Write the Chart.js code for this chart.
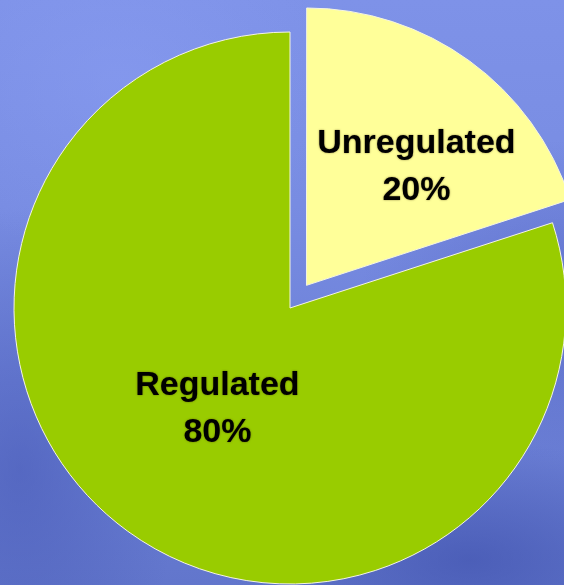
<!DOCTYPE html>
<html>
<head>
<meta charset="utf-8">
<script src="https://cdn.jsdelivr.net/npm/chart.js@4/dist/chart.umd.min.js"></script>
<style>
  html, body { margin: 0; padding: 0; }
  #wrap {
    position: relative;
    width: 564px;
    height: 585px;
    overflow: hidden;
    background:
      radial-gradient(ellipse 160px 260px at 20px 470px, rgba(70, 88, 180, 0.55), rgba(70, 88, 180, 0) 100%),
      radial-gradient(ellipse 200px 160px at 560px 300px, rgba(80, 96, 190, 0.5), rgba(80, 96, 190, 0) 100%),
      radial-gradient(ellipse 240px 120px at 470px 560px, rgba(60, 78, 170, 0.6), rgba(60, 78, 170, 0) 100%),
      radial-gradient(ellipse 220px 180px at 120px 80px, rgba(140, 160, 245, 0.45), rgba(140, 160, 245, 0) 100%),
      linear-gradient(180deg, #7e92e8 0%, #788ce2 35%, #6d81d8 65%, #6276cc 100%);
  }
</style>
</head>
<body>
<div id="wrap"><canvas id="chart"></canvas></div>
<script>
const labels = ["Unregulated", "Regulated"];
const shares = [20, 80];
const sliceColors = ["#ffff99", "#99cc00"];

// label anchor per slice, in units of the pie radius from the pie centre
const labelAnchors = [
  { dx: 0.458, dy: -0.511 },
  { dx: -0.263, dy: 0.368 },
];

const sliceLabels = {
  id: "sliceLabels",
  afterDatasetsDraw(chart) {
    const ctx = chart.ctx;
    const arcs = chart.getDatasetMeta(0).data;
    ctx.save();
    ctx.font = "bold 34px 'Liberation Sans', Arial, sans-serif";
    ctx.textAlign = "center";
    ctx.textBaseline = "middle";
    ctx.fillStyle = "#000";
    ctx.shadowColor = "rgba(60, 40, 0, 0.6)";
    ctx.shadowBlur = 2;
    arcs.forEach((arc, i) => {
      const r = arc.outerRadius;
      const x = arc.x + labelAnchors[i].dx * r;
      const y = arc.y + labelAnchors[i].dy * r;
      ctx.fillText(labels[i], x, y - 23.5);
      ctx.fillText(shares[i] + "%", x, y + 23.5);
    });
    ctx.restore();
  },
};

new Chart(document.getElementById("chart"), {
  type: "pie",
  data: {
    labels: labels,
    datasets: [
      {
        data: shares,
        backgroundColor: sliceColors,
        borderColor: "#f4f4e0",
        borderWidth: 1,
        offset: [112, 0],
        clip: false,
      },
    ],
  },
  options: {
    responsive: true,
    maintainAspectRatio: false,
    animation: false,
    radius: 276,
    layout: { padding: { left: 16, top: 31, right: 0, bottom: 0 } },
    plugins: {
      legend: { display: false },
      tooltip: { enabled: false },
    },
  },
  plugins: [sliceLabels],
});
</script>
</body>
</html>
